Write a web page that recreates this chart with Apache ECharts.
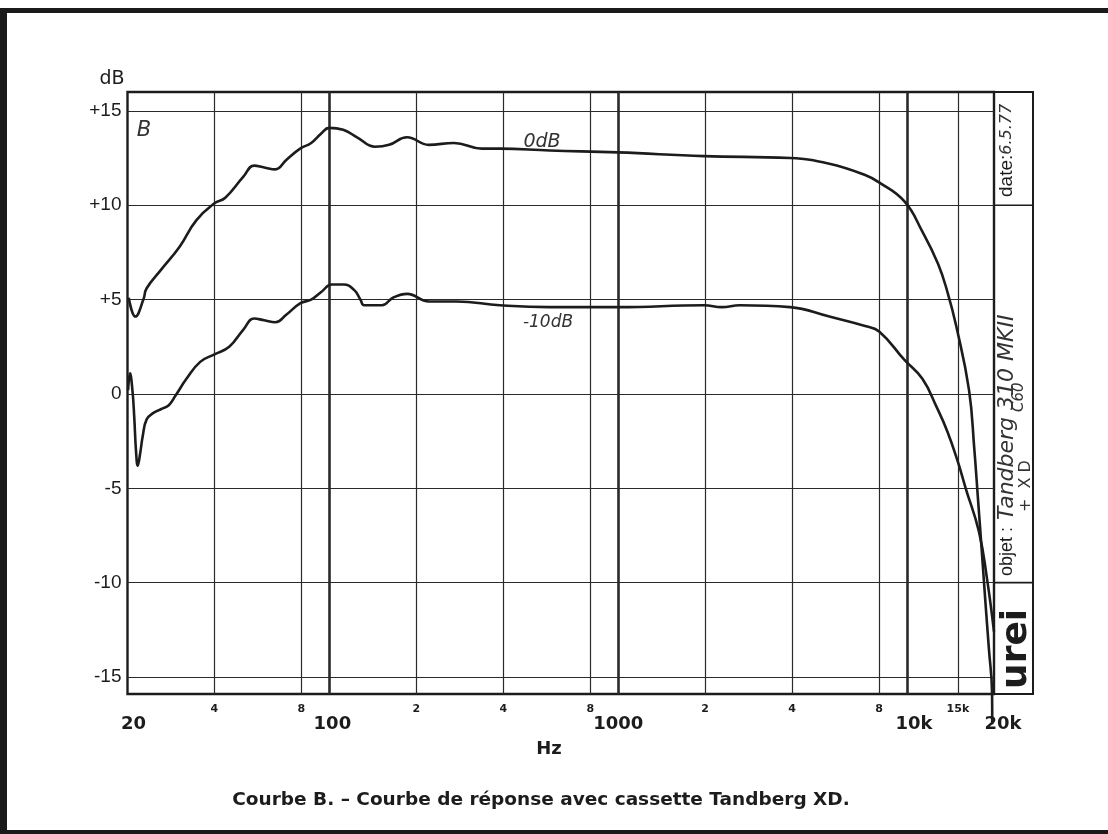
<!DOCTYPE html>
<html><head><meta charset="utf-8">
<script src="https://cdn.jsdelivr.net/npm/echarts@6/dist/echarts.min.js"></script>
<style>html,body{margin:0;padding:0;background:#fff}#c{width:1108px;height:834px}</style>
</head><body><div id="c"></div>
<script>
// Response at 0 dB recording level: [frequency Hz, level dB]
const curve0dB = [[20.2,5.1],[21.3,4.1],[22.7,5.0],[23.3,5.6],[26.2,6.6],[30.3,7.8],[34.6,9.2],[40,10.1],[43.6,10.4],[50.3,11.5],[54.9,12.1],[59.5,12.0],[65,11.9],[70.9,12.4],[79.2,13.0],[86.5,13.3],[93.7,13.8],[99.8,14.1],[111.6,14.0],[124.7,13.6],[143.9,13.1],[160.9,13.2],[185.7,13.6],[221,13.2],[270,13.3],[337,13.0],[389,13.0],[579,12.9],[1000,12.8],[1983,12.6],[3932,12.5],[5382,12.2],[7160,11.6],[8024,11.2],[9795,10.2],[11300,8.6],[12800,6.9],[13800,5.4],[14800,3.6],[16390,0.2],[17090,-2.9],[17610,-5.6],[18120,-8.2],[18650,-10.9],[19200,-13.5],[19690,-15.8],[19720,-17.5]];
// Response at -10 dB recording level
const curveM10dB = [[20.1,0.2],[20.4,1.1],[20.8,0.2],[21.1,-1.2],[21.4,-3.0],[21.7,-3.8],[22.1,-3.2],[22.6,-2.2],[23.3,-1.35],[24.6,-1.0],[26.2,-0.8],[27.8,-0.6],[29.3,-0.1],[32.0,0.8],[35.7,1.7],[40,2.1],[45,2.5],[50.3,3.4],[54.9,4.0],[59.5,3.9],[65,3.8],[70.9,4.2],[79.2,4.8],[86.5,5.0],[93.7,5.4],[102,5.8],[112,5.8],[122,5.5],[128,5.0],[132,4.7],[152,4.7],[166,5.1],[186,5.3],[221,4.9],[276,4.9],[389,4.7],[579,4.6],[1000,4.6],[1983,4.7],[2285,4.6],[2636,4.7],[3932,4.6],[5382,4.1],[7160,3.6],[8024,3.3],[9795,1.8],[11300,0.8],[12665,-0.7],[13800,-2.0],[15000,-3.6],[15960,-5.0],[17740,-7.3],[18920,-9.8],[20000,-12.6]];

const gridFreqThin = [40, 80, 200, 400, 800, 2000, 4000, 8000, 15000];
const gridFreqThick = [100, 1000, 10000];
const minorTickFreqs = [40, 80, 200, 400, 800, 2000, 4000, 8000, 15000];
const minorTickLabels = ['4', '8', '2', '4', '8', '2', '4', '8', '15k'];
const majorTickFreqs = [20, 100, 1000, 10000, 20000];
const majorTickLabels = ['20', '100', '1000', '10k', '20k'];
const majorLabelShift = [6, 3, 0, 7, 9];
const dbTicks = [15, 10, 5, 0, -5, -10, -15];
const dbTickLabels = ['+15', '+10', '+5', '0', '-5', '-10', '-15'];

(function () {
const INK = '#1c1c1c';
const GRIDC = '#2a2a2a';

const markData = [];
gridFreqThin.forEach(f => markData.push({xAxis: f, lineStyle: {type: 'solid', width: 1.2, color: GRIDC}, label: {show: false}}));
gridFreqThick.forEach(f => markData.push({xAxis: f, lineStyle: {type: 'solid', width: 2.6, color: GRIDC}, label: {show: false}}));
dbTicks.forEach((v, i) => markData.push({yAxis: v, lineStyle: {type: 'solid', width: 1.2, color: GRIDC},
  label: {show: true, position: 'start', distance: 6, formatter: dbTickLabels[i], color: INK,
    fontFamily: 'Liberation Sans', fontSize: 19}}));
minorTickFreqs.forEach((f, i) => markData.push({xAxis: f, lineStyle: {width: 0, color: 'rgba(0,0,0,0)'},
  label: {show: true, position: 'start', distance: 10, formatter: minorTickLabels[i], color: INK,
    fontFamily: 'DejaVu Sans', fontWeight: 'bold', fontSize: 11}}));
majorTickFreqs.forEach((f, i) => markData.push({xAxis: f, lineStyle: {width: 0, color: 'rgba(0,0,0,0)'},
  label: {show: true, position: 'start', distance: 21, formatter: majorTickLabels[i], color: INK,
    fontFamily: 'DejaVu Sans', fontWeight: 'bold', fontSize: 18, padding: [0, 0, 0, 2 * majorLabelShift[i]]}}));

const chart = echarts.init(document.getElementById('c'), null, {renderer: 'canvas'});
const option = {
  backgroundColor: '#ffffff',
  animation: false,
  grid: {left: 127.5, top: 92, right: 114, bottom: 140, show: true, borderColor: INK, borderWidth: 2.4, backgroundColor: 'transparent'},
  xAxis: {type: 'log', logBase: 10, min: 20, max: 20000,
    axisLine: {show: false}, axisTick: {show: false}, axisLabel: {show: false}, splitLine: {show: false}},
  yAxis: {type: 'value', min: -15.9, max: 16,
    axisLine: {show: false}, axisTick: {show: false}, axisLabel: {show: false}, splitLine: {show: false}},
  series: [
    {name: '0 dB', type: 'line', data: curve0dB, showSymbol: false, symbol: 'none', smooth: 0.45,
      clip: false, lineStyle: {color: INK, width: 2.6}, z: 5},
    {name: '-10 dB', type: 'line', data: curveM10dB, showSymbol: false, symbol: 'none', smooth: 0.45,
      lineStyle: {color: INK, width: 2.6}, z: 5,
      markLine: {silent: true, symbol: ['none', 'none'], animation: false, data: markData, z: 1}}
  ]
};
chart.setOption(option);

const yP = v => chart.convertToPixel({yAxisIndex: 0}, v);
const xP = v => chart.convertToPixel({xAxisIndex: 0}, v);
const pTop = yP(16), pBot = yP(-15.9), xr = xP(20000);
const panelR = 1033;
const hand = 'DejaVu Sans';
chart.setOption({graphic: [
  {type: 'rect', shape: {x: 0, y: 8, width: 1108, height: 5}, style: {fill: '#1a1a1a'}},
  {type: 'rect', shape: {x: 0, y: 8, width: 7, height: 826}, style: {fill: '#1a1a1a'}},
  {type: 'rect', shape: {x: 0, y: 830, width: 1108, height: 4}, style: {fill: '#1a1a1a'}},
  {type: 'rect', shape: {x: xr, y: pTop, width: panelR - xr, height: pBot - pTop}, style: {fill: 'none', stroke: INK, lineWidth: 2}},
  {type: 'line', shape: {x1: xr, y1: yP(10), x2: panelR, y2: yP(10)}, style: {stroke: INK, lineWidth: 1.6}},
  {type: 'line', shape: {x1: xr, y1: yP(-10), x2: panelR, y2: yP(-10)}, style: {stroke: INK, lineWidth: 1.6}},
  {type: 'text', x: 112, y: 79, style: {text: 'dB', fontFamily: 'DejaVu Sans', fontSize: 19, fill: INK, align: 'center', verticalAlign: 'middle'}},
  {type: 'text', x: 549, y: 749, style: {text: 'Hz', fontFamily: 'DejaVu Sans', fontWeight: 'bold', fontSize: 18, fill: INK, align: 'center', verticalAlign: 'middle'}},
  {type: 'text', x: 541, y: 800, style: {text: 'Courbe B. – Courbe de réponse avec cassette Tandberg XD.', fontFamily: 'DejaVu Sans', fontWeight: 'bold', fontSize: 18.5, fill: INK, align: 'center', verticalAlign: 'middle'}},
  {type: 'text', x: 144, y: 131, style: {text: 'B', fontFamily: hand, fontStyle: 'italic', fontSize: 21, fill: '#333', align: 'center', verticalAlign: 'middle'}},
  {type: 'text', x: 542, y: 142, style: {text: '0dB', fontFamily: hand, fontStyle: 'italic', fontSize: 19, fill: '#333', align: 'center', verticalAlign: 'middle'}},
  {type: 'text', x: 548, y: 323, style: {text: '-10dB', fontFamily: hand, fontStyle: 'italic', fontSize: 17, fill: '#333', align: 'center', verticalAlign: 'middle'}},
  {type: 'text', x: 1007, y: 197, rotation: Math.PI / 2, style: {text: '{p|date:}{h|6.5.77}', align: 'left', verticalAlign: 'middle',
    rich: {p: {fontFamily: 'Liberation Sans', fontSize: 19, fill: INK}, h: {fontFamily: hand, fontStyle: 'italic', fontSize: 16, fill: '#333'}}}},
  {type: 'text', x: 1007, y: 576, rotation: Math.PI / 2, style: {text: '{p|objet :}{h| Tandberg 310 MKII}', align: 'left', verticalAlign: 'middle',
    rich: {p: {fontFamily: 'Liberation Sans', fontSize: 18, fill: INK}, h: {fontFamily: hand, fontStyle: 'italic', fontSize: 22, fill: '#333'}}}},
  {type: 'text', x: 1026, y: 512, rotation: Math.PI / 2, style: {text: '+  X D', fontFamily: hand, fontSize: 16, fill: '#333', align: 'left', verticalAlign: 'middle'}},
  {type: 'text', x: 1019, y: 412, rotation: Math.PI / 2, style: {text: 'C60', fontFamily: hand, fontStyle: 'italic', fontSize: 15, fill: '#333', align: 'left', verticalAlign: 'middle'}},
  {type: 'text', x: 1017, y: 689, rotation: Math.PI / 2, style: {text: 'urei', fontFamily: 'DejaVu Sans', fontWeight: 'bold', fontSize: 36, fill: INK, align: 'left', verticalAlign: 'middle'}}
]});
})();
</script></body></html>
